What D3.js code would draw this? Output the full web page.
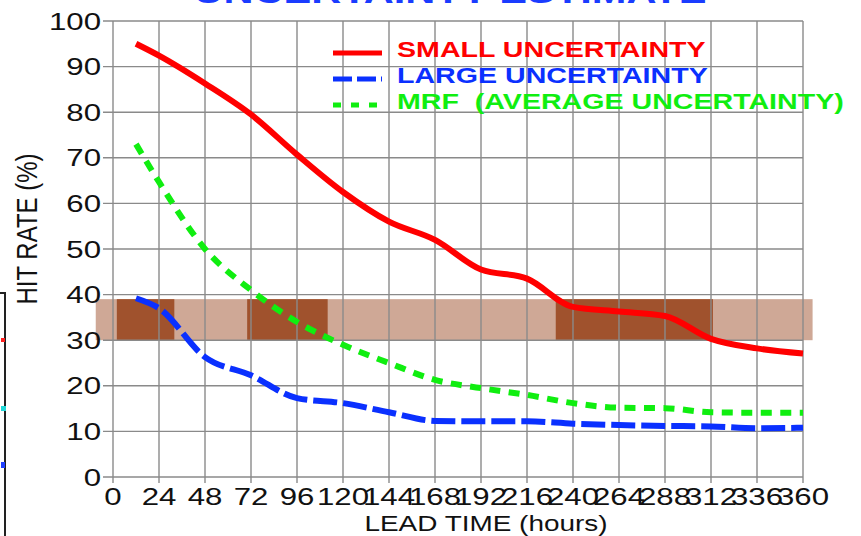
<!DOCTYPE html>
<meta charset='utf-8'>
<style>
  body { margin:0; background:#fff; }
  text { font-family:'Liberation Sans', Arial, sans-serif; white-space:pre; }
  .grid line { stroke:#8a8a8a; stroke-width:1.4px; }
</style>
<body>
  <script src='https://d3js.org/d3.v7.min.js' charset='utf-8'></script>
  <script>

    var width = 861;
    var height = 536;

    // lead time (hours) and hit rates (%)
    var hours = [12, 24, 48, 72, 96, 120, 144, 168, 192, 216, 240, 264, 288, 312, 336, 360];
    var small = [95, 92.4, 86.3, 79.5, 70.7, 62.5, 56, 52, 45.5, 43.5, 37.3, 36.3, 35.3, 30.3, 28.2, 27.1];
    var large = [39.2, 37, 26.3, 22.3, 17.3, 16.2, 14.2, 12.3, 12.2, 12.2, 11.7, 11.4, 11.2, 11.1, 10.7, 10.8];
    var mrf = [73, 64.7, 50, 41, 34, 29, 25, 21.3, 19.5, 18, 16.2, 15.2, 15.1, 14.2, 14.1, 14.1];

    var xTicks = d3.range(0, 361, 24);
    var yTicks = d3.range(0, 101, 10);

    // uncertainty band: light strip plus darker periods
    var band = [30, 39];
    var bandSpan = [-9, 365];
    var darkSpans = [[2, 32], [70, 112], [231, 313]];

    var series = [
      {name:'SMALL UNCERTAINTY', values:small, color:'#ff0000', dash:null, key:null},
      {name:'LARGE UNCERTAINTY', values:large, color:'#0a30ff', dash:'24,6', key:'19,5'},
      {name:'MRF  (AVERAGE UNCERTAINTY)', values:mrf, color:'#10ee10', dash:'11,8.5', key:'8,10'}
    ];

    var svg = d3.select('body').append('svg')
      .attr('width',width)
      .attr('height',height);

    var x = d3.scaleLinear().domain([0, 360]).range([113, 803]);
    var y = d3.scaleLinear().domain([0, 100]).range([477, 21]);

    // band
    svg.append('rect')
      .attr('x', x(bandSpan[0]))
      .attr('width', x(bandSpan[1]) - x(bandSpan[0]))
      .attr('y', y(band[1]))
      .attr('height', y(band[0]) - y(band[1]))
      .attr('fill', '#a0522d')
      .attr('fill-opacity', 0.5);
    svg.selectAll('.dark').data(darkSpans).enter().append('rect')
      .attr('x', d => x(d[0]))
      .attr('width', d => x(d[1]) - x(d[0]))
      .attr('y', y(band[1]))
      .attr('height', y(band[0]) - y(band[1]))
      .attr('fill', '#a0522d');

    // grid
    var grid = svg.append('g').attr('class','grid');
    grid.selectAll('.gx').data(xTicks).enter().append('line')
      .attr('x1', d => x(d)).attr('x2', d => x(d))
      .attr('y1', y(100)).attr('y2', y(0) + 6);
    grid.selectAll('.gy').data(yTicks).enter().append('line')
      .attr('y1', d => y(d)).attr('y2', d => y(d))
      .attr('x1', x(0) - 10).attr('x2', x(360));

    // tick labels, stretched sideways like the original
    svg.selectAll('.xl').data(xTicks).enter().append('text')
      .attr('transform', d => 'translate(' + x(d) + ',505) scale(1.3,1)')
      .attr('text-anchor','middle')
      .attr('font-size', 24)
      .attr('fill','#111')
      .text(d => d);
    svg.selectAll('.yl').data(yTicks).enter().append('text')
      .attr('transform', d => 'translate(101,' + (y(d) + 8.5) + ') scale(1.3,1)')
      .attr('text-anchor','end')
      .attr('font-size', 24)
      .attr('fill','#111')
      .text(d => d);

    svg.append('text')
      .attr('transform','translate(486,531) scale(1.27,1)')
      .attr('text-anchor','middle')
      .attr('font-size', 22)
      .attr('fill','#111')
      .text('LEAD TIME (hours)');
    svg.append('text')
      .attr('transform','translate(36.5,229) rotate(-90) scale(1,1.25)')
      .attr('text-anchor','middle')
      .attr('font-size', 24)
      .attr('fill','#111')
      .text('HIT RATE (%)');

    // title, mostly cut off at the top
    svg.append('text')
      .attr('transform','translate(450,3) scale(1.3,1)')
      .attr('text-anchor','middle')
      .attr('font-size', 32)
      .attr('font-weight','bold')
      .attr('fill','#1a3cff')
      .text('UNCERTAINTY ESTIMATE');

    // lines
    var line = d3.line()
      .x((d, i) => x(hours[i]))
      .y(d => y(d))
      .curve(d3.curveMonotoneX);

    svg.selectAll('.series').data(series).enter().append('path')
      .attr('d', d => line(d.values))
      .attr('fill','none')
      .attr('stroke', d => d.color)
      .attr('stroke-width', 6)
      .attr('stroke-dasharray', d => d.dash);

    // legend
    var legend = svg.selectAll('.legend').data(series).enter().append('g')
      .attr('transform', (d, i) => 'translate(0,' + (i * 26) + ')');
    legend.append('line')
      .attr('x1', 333).attr('x2', 382)
      .attr('y1', 53).attr('y2', 53)
      .attr('stroke', d => d.color)
      .attr('stroke-width', 5)
      .attr('stroke-dasharray', d => d.key);
    legend.append('text')
      .attr('transform','translate(397,57) scale(1.3,1)')
      .attr('font-size', 22)
      .attr('font-weight','bold')
      .attr('fill', d => d.color)
      .text(d => d.name);

    // edge of the neighbouring panel
    var edge = svg.append('g');
    edge.append('path')
      .attr('d','M0,293H5V536')
      .attr('fill','none')
      .attr('stroke','#222')
      .attr('stroke-width',2);
    edge.append('rect').attr('x',1).attr('y',338).attr('width',4).attr('height',4).attr('fill','#ff2020');
    edge.append('rect').attr('x',1).attr('y',406).attr('width',5).attr('height',5).attr('fill','#20d8d8');
    edge.append('rect').attr('x',1).attr('y',462).attr('width',4).attr('height',6).attr('fill','#2040ff');
  </script>
</body>
